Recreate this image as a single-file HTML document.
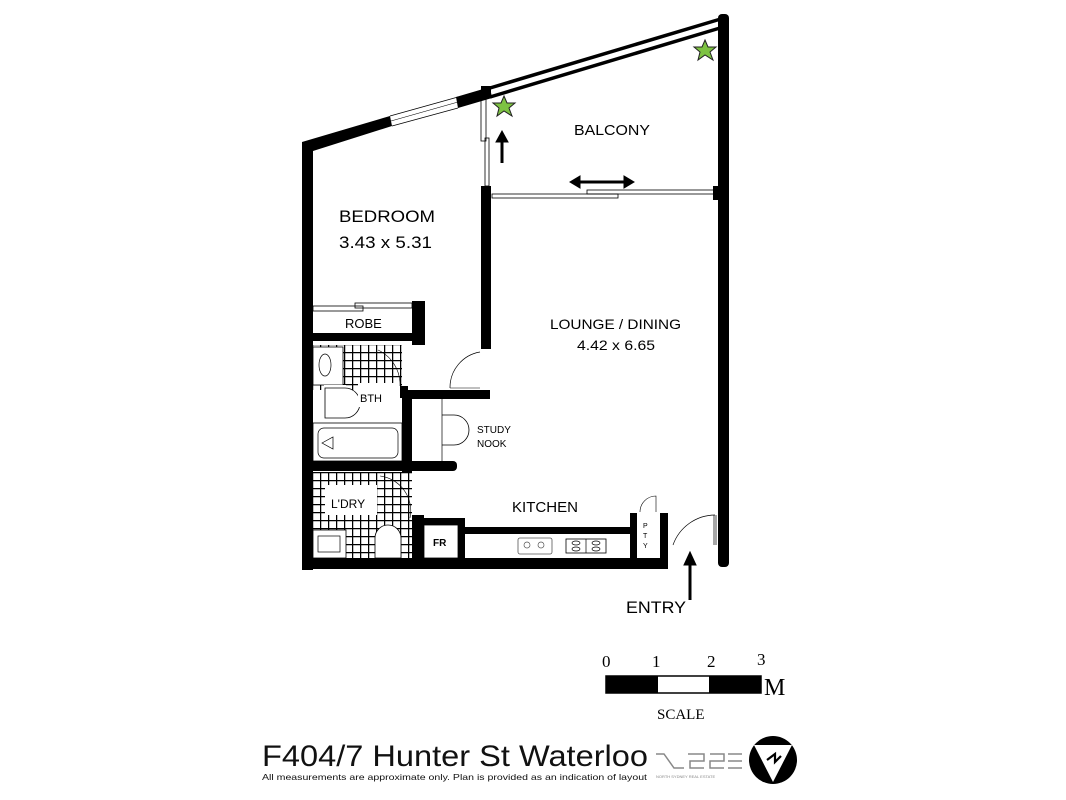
<!DOCTYPE html>
<html><head><style>
body{margin:0;background:#fff;}
svg{display:block;font-family:"Liberation Sans",sans-serif;}
</style></head><body>
<svg width="1066" height="800" viewBox="0 0 1066 800">
<g fill="#000">
<rect x="302" y="142" width="11" height="428"/>
<rect x="302" y="558" width="366" height="11"/>
<rect x="718" y="14" width="11" height="553" rx="4"/>
<polygon points="302,142 390,116 392,126 313,151"/>
<polygon points="456,97 490,87 492,98 458,108"/>
<rect x="481" y="86" width="10" height="12"/>
<rect x="481" y="186" width="10" height="163"/>
<rect x="713" y="186" width="14" height="14"/>
<rect x="302" y="333" width="112" height="8"/>
<rect x="412" y="301" width="13" height="44"/>
<rect x="405" y="390" width="85" height="9"/>
<rect x="402" y="390" width="10" height="82"/>
<rect x="302" y="461" width="155" height="10" rx="4"/>
<rect x="400" y="386" width="8" height="12"/>
<rect x="412" y="515" width="12" height="52"/>
<rect x="412" y="518" width="52" height="7"/>
<rect x="458" y="518" width="7" height="50"/>
<rect x="458" y="527" width="175" height="7"/>
<rect x="630" y="513" width="7" height="55"/>
<rect x="660" y="513" width="8" height="55"/>
</g>
<line x1="390" y1="116" x2="458" y2="97" stroke="#000" stroke-width="0.8"/>
<line x1="392" y1="126" x2="458" y2="108" stroke="#000" stroke-width="0.8"/>
<line x1="391" y1="121" x2="458" y2="102" stroke="#000" stroke-width="0.6"/>
<line x1="490" y1="88" x2="724" y2="18" stroke="#000" stroke-width="3.5"/>
<line x1="490" y1="97" x2="720" y2="28" stroke="#000" stroke-width="3.5"/>
<rect x="481" y="99" width="5" height="42" fill="none" stroke="#000" stroke-width="0.8"/>
<rect x="485" y="138" width="4" height="48" fill="none" stroke="#000" stroke-width="0.8"/>
<rect x="492" y="194" width="126" height="4" fill="none" stroke="#000" stroke-width="0.8"/>
<rect x="587" y="190" width="127" height="4" fill="none" stroke="#000" stroke-width="0.8"/>
<g fill="#000" stroke="#000">
<line x1="502" y1="163" x2="502" y2="140" stroke-width="3"/>
<polygon points="496,142 508,142 502,131" />
<line x1="580" y1="182" x2="624" y2="182" stroke-width="3"/>
<polygon points="580,176 580,188 570,182"/>
<polygon points="624,176 624,188 634,182"/>
<line x1="690" y1="600" x2="690" y2="562" stroke-width="3"/>
<polygon points="684,565 696,565 690,552"/>
</g>
<g fill="#7dc242" stroke="#222" stroke-width="1">
<polygon points="504,96 507,103 515,103 509,108 512,116 504,111 497,116 499,108 493,103 501,103"/>
<polygon points="705,40 708,47 716,47 710,52 713,60 705,55 698,60 700,52 694,47 702,47"/>
</g>
<rect x="313" y="306" width="50" height="5" fill="none" stroke="#000" stroke-width="0.8"/>
<rect x="355" y="303" width="57" height="5" fill="none" stroke="#000" stroke-width="0.8"/>
<defs>
<pattern id="t" width="8" height="8" patternUnits="userSpaceOnUse">
<path d="M0 0H8M0 0V8" stroke="#000" stroke-width="2.5"/>
</pattern>
</defs>
<rect x="313" y="345" width="89" height="45" fill="url(#t)"/>
<rect x="313" y="472" width="99" height="86" fill="url(#t)"/>
<rect x="313" y="347" width="30" height="38" fill="#fff" stroke="#000" stroke-width="0.8"/>
<ellipse cx="325" cy="365" rx="6" ry="11" fill="#fff" stroke="#000" stroke-width="0.7"/>
<rect x="324" y="385" width="22" height="36" fill="#fff"/>
<path d="M325 388 h20 a14 14 0 0 1 0 30 h-20z" fill="#fff" stroke="#000" stroke-width="0.8"/>
<rect x="358" y="383" width="42" height="24" fill="#fff"/>
<text x="360" y="402" font-size="11">BTH</text>
<rect x="313" y="423" width="89" height="38" fill="#fff" stroke="#000" stroke-width="0.8"/>
<rect x="318" y="428" width="80" height="30" rx="6" fill="#fff" stroke="#000" stroke-width="0.7"/>
<polygon points="322,443 333,437 333,449" fill="none" stroke="#000" stroke-width="0.7"/>
<path d="M378 350 a38 38 0 0 1 22 36" fill="none" stroke="#000" stroke-width="0.6"/>
<rect x="325" y="485" width="52" height="30" fill="#fff"/>
<text x="331" y="508" font-size="12">L'DRY</text>
<rect x="313" y="530" width="33" height="28" fill="#fff" stroke="#000" stroke-width="0.8"/>
<rect x="318" y="536" width="22" height="16" fill="none" stroke="#000" stroke-width="0.7"/>
<path d="M375 558 v-20 a13 13 0 0 1 26 0 v20z" fill="#fff" stroke="#000" stroke-width="0.8"/>
<path d="M380 476 a35 35 0 0 1 30 42" fill="none" stroke="#000" stroke-width="0.6"/>
<rect x="412" y="399" width="40" height="62" fill="#fff"/>
<line x1="442" y1="399" x2="442" y2="461" stroke="#000" stroke-width="0.7"/>
<path d="M442 415 h12 a14 14 0 0 1 0 30 h-12" fill="none" stroke="#000" stroke-width="0.8"/>
<path d="M450 388 a36 36 0 0 1 30 -36" fill="none" stroke="#000" stroke-width="0.7"/>
<line x1="450" y1="388" x2="480" y2="388" stroke="#000" stroke-width="0.6"/>
<rect x="424" y="525" width="34" height="33" fill="#fff" stroke="#000" stroke-width="0.8"/>
<text x="433" y="546" font-size="10" font-weight="bold">FR</text>
<rect x="518" y="538" width="34" height="16" rx="2" fill="none" stroke="#555" stroke-width="0.8"/>
<circle cx="527" cy="545" r="3" fill="none" stroke="#555" stroke-width="0.7"/>
<circle cx="541" cy="545" r="3" fill="none" stroke="#555" stroke-width="0.7"/>
<rect x="566" y="539" width="40" height="14" fill="none" stroke="#000" stroke-width="0.8"/>
<line x1="586" y1="539" x2="586" y2="553" stroke="#000" stroke-width="0.7"/>
<g fill="none" stroke="#000" stroke-width="0.7">
<ellipse cx="576" cy="543" rx="4" ry="2"/><ellipse cx="576" cy="549" rx="4" ry="2"/>
<ellipse cx="596" cy="543" rx="4" ry="2"/><ellipse cx="596" cy="549" rx="4" ry="2"/>
</g>
<path d="M640 512 a16 16 0 0 1 16 -16 v16" fill="none" stroke="#000" stroke-width="0.6"/>
<text x="643" y="528" font-size="7">P</text>
<text x="643" y="538" font-size="7">T</text>
<text x="643" y="548" font-size="7">Y</text>
<path d="M673 545 a45 45 0 0 1 42 -30" fill="none" stroke="#000" stroke-width="0.7"/>
<line x1="714" y1="515" x2="714" y2="545" stroke="#000" stroke-width="0.7"/>
<line x1="716" y1="515" x2="716" y2="545" stroke="#000" stroke-width="0.7"/>
<g fill="#000">
<text x="574" y="135" font-size="15" textLength="76" lengthAdjust="spacingAndGlyphs">BALCONY</text>
<text x="339" y="222" font-size="17" textLength="96" lengthAdjust="spacingAndGlyphs">BEDROOM</text>
<text x="339" y="248" font-size="17" textLength="93" lengthAdjust="spacingAndGlyphs">3.43 x 5.31</text>
<text x="345" y="328" font-size="13">ROBE</text>
<text x="550" y="329" font-size="14" textLength="131" lengthAdjust="spacingAndGlyphs">LOUNGE / DINING</text>
<text x="577" y="350" font-size="14" textLength="78" lengthAdjust="spacingAndGlyphs">4.42 x 6.65</text>
<text x="477" y="433" font-size="10">STUDY</text>
<text x="477" y="447" font-size="10">NOOK</text>
<text x="512" y="512" font-size="15" textLength="66" lengthAdjust="spacingAndGlyphs">KITCHEN</text>
<text x="626" y="613" font-size="17" textLength="60" lengthAdjust="spacingAndGlyphs">ENTRY</text>
</g>
<g font-family="Liberation Serif,serif" fill="#000">
<text x="602" y="667" font-size="17">0</text>
<text x="652" y="667" font-size="17">1</text>
<text x="707" y="667" font-size="17">2</text>
<text x="757" y="665" font-size="17">3</text>
<rect x="606" y="676" width="155" height="17" fill="#fff" stroke="#000" stroke-width="1.5"/>
<rect x="606" y="676" width="52" height="17"/>
<rect x="709" y="676" width="52" height="17"/>
<text x="764" y="695" font-size="24">M</text>
<text x="657" y="719" font-size="15">SCALE</text>
</g>
<text x="262" y="766" font-size="30" fill="#111" textLength="386" lengthAdjust="spacingAndGlyphs">F404/7 Hunter St Waterloo</text>
<text x="262" y="780" font-size="8.4" fill="#111" textLength="385" lengthAdjust="spacingAndGlyphs">All measurements are approximate only. Plan is provided as an indication of layout</text>
<g fill="none" stroke="#888" stroke-width="1.5">
<path d="M656 754 h8 l10 14 h10"/>
<path d="M688 754 h16 v7 h-14 v7 h14"/>
<path d="M710 754 h14 v7 h-14 v7 h14"/>
<path d="M728 754 h14 M728 761 h14 M728 768 h14"/>
</g>
<text x="656" y="778" font-size="4" fill="#888">NORTH SYDNEY REAL ESTATE</text>
<circle cx="773" cy="760" r="24" fill="#000"/>
<polygon points="754,745 792,745 773,782" fill="#fff"/>
<path d="M767 760 l8 -6 v8 l6 -6" fill="none" stroke="#000" stroke-width="2.2"/>
</svg>
</body></html>
